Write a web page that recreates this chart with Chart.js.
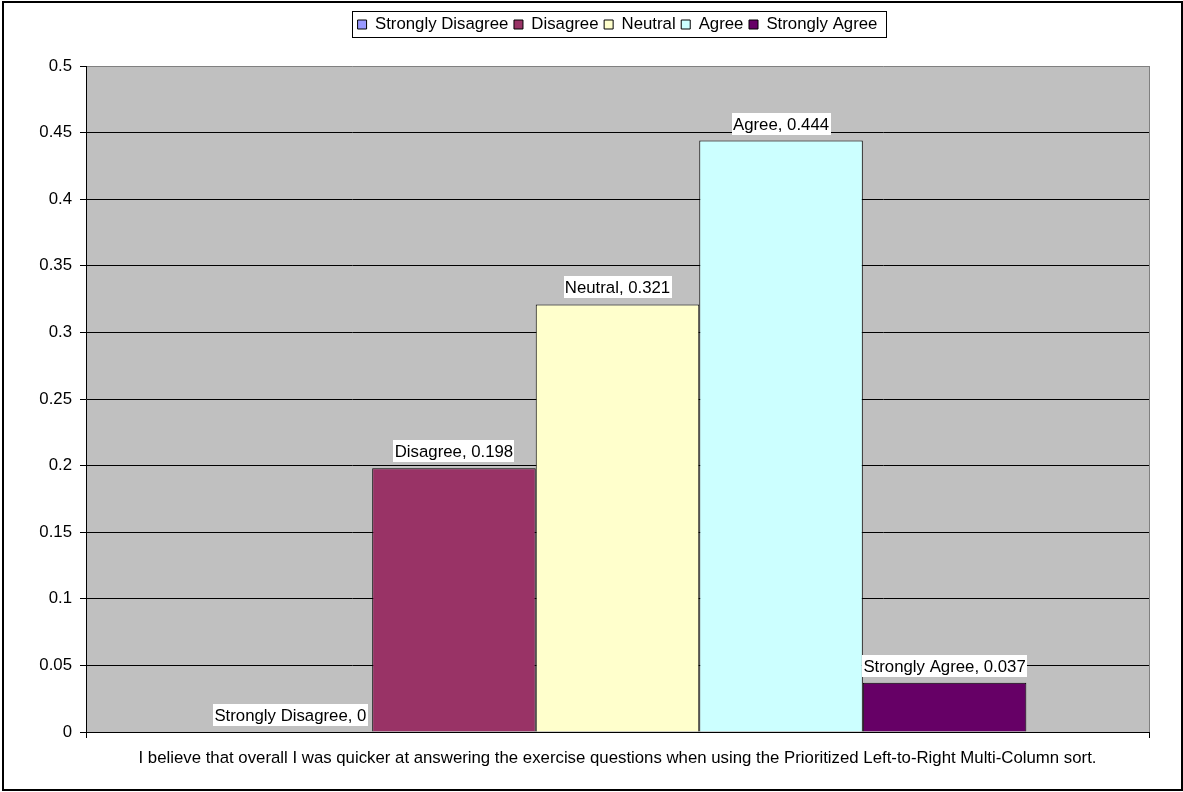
<!DOCTYPE html>
<html>
<head>
<meta charset="utf-8">
<title>Response distribution</title>
<script src="https://cdn.jsdelivr.net/npm/chart.js@4.4.1/dist/chart.umd.min.js"></script>
<style>
  html, body { margin: 0; padding: 0; background: #fff; }
  #wrap { position: relative; width: 1183px; height: 792px; }
</style>
</head>
<body>
<div id="wrap"><canvas id="c"></canvas></div>
<script>
// Survey statement (single category) and the share of answers per response
const categories = ['I believe that overall I was quicker at answering the exercise questions when using the Prioritized Left-to-Right Multi-Column sort.'];
const responseLabels = ['Strongly Disagree', 'Disagree', 'Neutral', 'Agree', 'Strongly Agree'];
const responseShares = [0, 0.198, 0.321, 0.444, 0.037];
const responseColors = ['#9999FF', '#993366', '#FFFFCC', '#CCFFFF', '#660066'];
const yTickLabels = ['0', '0.05', '0.1', '0.15', '0.2', '0.25', '0.3', '0.35', '0.4', '0.45', '0.5'];

const FONT = '"Liberation Sans", Arial, Helvetica, sans-serif';
const FONT_SIZE = 16.8;
const LEGEND_TOP = 10.5;
const PLOT_TOP = 66;

// Frame, plot background, value labels and legend border
const frame = {
  id: 'frame',
  beforeLayout(chart) {
    const lg = chart.legend;
    if (lg && !lg._bandPatched) {
      const fit = lg.fit;
      lg.fit = function () { fit.call(this); this.height = PLOT_TOP - LEGEND_TOP; };
      lg._bandPatched = true;
    }
  },
  afterLayout(chart) {
    // centre the legend over the plot area
    const lg = chart.legend, a = chart.chartArea;
    if (!lg) return;
    const d = (a.left + a.right) / 2 - (lg.left + lg.right) / 2;
    lg.left += d; lg.right += d;
  },
  beforeDraw(chart) {
    const { ctx, chartArea: a, width, height } = chart;
    ctx.save();
    ctx.fillStyle = '#fff';
    ctx.fillRect(0, 0, width, height);
    ctx.strokeStyle = '#000';
    ctx.lineWidth = 2;
    ctx.strokeRect(3, 2, width - 4, height - 4);
    ctx.fillStyle = '#C0C0C0';
    ctx.fillRect(a.left, a.top, a.right - a.left, a.bottom - a.top);
    ctx.restore();
  },
  beforeDatasetsDraw(chart) {
    const { ctx, chartArea: a } = chart;
    ctx.save();
    ctx.strokeStyle = '#808080';
    ctx.lineWidth = 1;
    ctx.beginPath();
    ctx.moveTo(Math.round(a.right) + 0.5, a.top);
    ctx.lineTo(Math.round(a.right) + 0.5, a.bottom);
    ctx.stroke();
    ctx.restore();
  },
  afterDatasetsDraw(chart) {
    const ctx = chart.ctx;
    ctx.save();
    ctx.font = FONT_SIZE + 'px ' + FONT;
    ctx.textAlign = 'center';
    ctx.textBaseline = 'middle';
    chart.data.datasets.forEach((ds, i) => {
      const bar = chart.getDatasetMeta(i).data[0];
      const text = ds.label + ', ' + ds.data[0];
      const w = Math.round(ctx.measureText(text).width + 3);
      const h = 22;
      const bottom = Math.round(bar.y) - 6;
      const left = Math.round(bar.x - w / 2);
      ctx.fillStyle = '#fff';
      ctx.fillRect(left, bottom - h, w, h);
      ctx.fillStyle = '#000';
      ctx.fillText(text, bar.x, bottom - h / 2 + 1);
    });
    ctx.restore();
  },
  afterDraw(chart) {
    const lg = chart.legend;
    if (!lg || !lg.legendHitBoxes || !lg.legendHitBoxes.length) return;
    const hb = lg.legendHitBoxes;
    const first = hb[0], last = hb[hb.length - 1];
    const x0 = Math.round(first.left) - 6;
    const x1 = Math.round(last.left + last.width) + 9;
    const y0 = Math.round(first.top) - 5;
    const y1 = Math.round(first.top + first.height) + 4;
    const ctx = chart.ctx;
    ctx.save();
    ctx.strokeStyle = '#000';
    ctx.lineWidth = 1;
    ctx.strokeRect(x0 + 0.5, y0 + 0.5, x1 - x0, y1 - y0);
    ctx.restore();
  }
};

new Chart(document.getElementById('c'), {
  type: 'bar',
  data: {
    labels: categories,
    datasets: responseLabels.map((label, i) => ({
      label,
      data: [responseShares[i]],
      backgroundColor: responseColors[i],
      borderColor: '#000',
      borderWidth: 1,
      categoryPercentage: 5 / 6.5,
      barPercentage: 1
    }))
  },
  options: {
    responsive: true,
    maintainAspectRatio: false,
    animation: false,
    events: [],
    layout: { padding: { left: 0, right: 34, top: LEGEND_TOP, bottom: 0 } },
    plugins: {
      tooltip: { enabled: false },
      legend: {
        position: 'top',
        labels: {
          boxWidth: 9,
          boxHeight: 9,
          padding: 5.6,
          color: '#000',
          font: { family: FONT, size: FONT_SIZE }
        }
      }
    },
    scales: {
      x: {
        offset: true,
        grid: { drawOnChartArea: false, offset: true, tickLength: 6, color: '#000' },
        border: { color: '#000' },
        ticks: { color: '#000', font: { family: FONT, size: FONT_SIZE }, padding: 10, maxRotation: 0, autoSkip: false },
        afterFit(scale) { scale.height = 60; }
      },
      y: {
        min: 0,
        max: 0.5,
        ticks: {
          stepSize: 0.05,
          color: '#000',
          font: { family: FONT, size: FONT_SIZE },
          padding: 8,
          callback: (v, i) => yTickLabels[i]
        },
        grid: {
          color: (c) => (c.tick && c.tick.value >= 0.4999 ? '#808080' : '#000'),
          tickColor: '#000',
          tickLength: 6
        },
        border: { color: '#000' },
        afterFit(scale) { scale.width = 86; }
      }
    }
  },
  plugins: [frame]
});
</script>
</body>
</html>
